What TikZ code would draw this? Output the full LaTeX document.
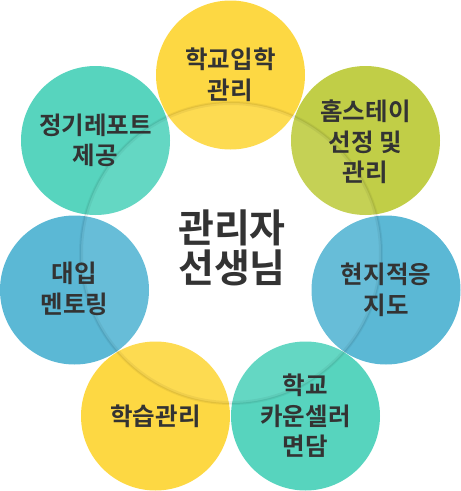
\documentclass[tikz,border=0pt]{standalone}
\usepackage{fontspec}
\setmainfont{Noto Sans CJK KR Bold}
\definecolor{cyellow}{HTML}{FDD843}
\definecolor{cgreen}{HTML}{C1CE47}
\definecolor{cblue}{HTML}{5BB8D5}
\definecolor{cteal}{HTML}{57D4BE}
\definecolor{txtgray}{HTML}{333333}
\pgfdeclarelayer{back}
\pgfdeclarelayer{mid}
\pgfsetlayers{back,mid,main}
\begin{document}
\begin{tikzpicture}[x=1pt,y=-1pt,line join = round, line cap = round,
		bubble/.style={circle,minimum size=149pt,inner sep=0pt,align=center,text=txtgray,
			font=\fontsize{24.5}{30.5}\selectfont}]
	\useasboundingbox (0,0) rectangle (461,491);
	% labels of the seven bubbles
	\node[bubble] (ipak) at (230.5,75) {학교입학\\관리};
	\node[bubble] (home) at (365.5,142) {홈스테이\\선정 및\\관리};
	\node[bubble] (jido) at (386,290) {현지적응\\지도};
	\node[bubble] (coun) at (305.5,416) {학교\\카운셀러\\면담};
	\node[bubble] (hak) at (155.5,416) {학습관리};
	\node[bubble] (daeip) at (74.5,289) {대입\\멘토링};
	\node[bubble] (report) at (95.5,140.5) {정기레포트\\제공};
	\node[align=center,text=txtgray,font=\fontsize{39}{40}\selectfont] (boss) at (232,248) {관리자\\선생님};
	% fills
	\begin{pgfonlayer}{back}
		\fill[cteal] (report.center) circle (74.5);
		\fill[cyellow] (ipak.center) circle (74.5);
		\fill[cgreen] (home.center) ++(0,-1.5) circle (74.5);
		\fill[cblue] (jido.center) circle (74.5);
		\fill[cteal] (coun.center) circle (74.5);
		\fill[cyellow] (hak.center) circle (74.5);
		\fill[cblue] (daeip.center) ++(0,1) circle (74.5);
	\end{pgfonlayer}
	% faint ring
	\begin{pgfonlayer}{mid}
		\fill[white,fill opacity=0.08] (boss.center) ++(-1,5) circle (150);
		\draw[black,draw opacity=0.05,line width=4pt] (boss.center) ++(-1,5) circle (150);
		\draw[black,draw opacity=0.06,line width=1pt] (boss.center) ++(-1,5) circle (150.5);
	\end{pgfonlayer}
\end{tikzpicture}
\end{document}
